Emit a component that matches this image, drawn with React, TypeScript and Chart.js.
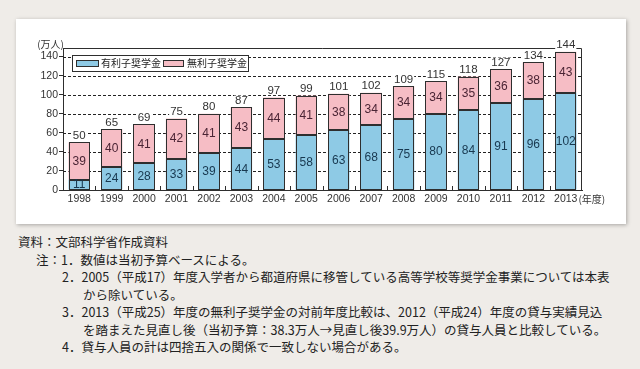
import React, { useEffect, useRef } from "react";
import { Chart, registerables } from "chart.js";

Chart.register(...registerables);

const years = ["1998", "1999", "2000", "2001", "2002", "2003", "2004", "2005", "2006", "2007", "2008", "2009", "2010", "2011", "2012", "2013"];
const interestLoans = [11, 24, 28, 33, 39, 44, 53, 58, 63, 68, 75, 80, 84, 91, 96, 102];
const interestFreeLoans = [39, 40, 41, 42, 41, 43, 44, 41, 38, 34, 34, 34, 35, 36, 38, 43];
const totals = [50, 65, 69, 75, 80, 87, 97, 99, 101, 102, 109, 115, 118, 127, 134, 144];
const yTicks = [0, 20, 40, 60, 80, 100, 120, 140];
const seriesNames = ["有利子奨学金", "無利子奨学金"];
const yUnit = "(万人)";
const xUnit = "(年度)";

const sourceLine = "資料：文部科学省作成資料";
const noteHead = "注：";
const noteLines = [
  ["1．数値は当初予算ベースによる。"],
  ["2．2005（平成17）年度入学者から都道府県に移管している高等学校等奨学金事業については本表", "から除いている。"],
  ["3．2013（平成25）年度の無利子奨学金の対前年度比較は、2012（平成24）年度の貸与実績見込", "を踏まえた見直し後（当初予算：38.3万人→見直し後39.9万人）の貸与人員と比較している。"],
  ["4．貸与人員の計は四捨五入の関係で一致しない場合がある。"],
];

const BLUE = "#8ecae5";
const PINK = "#f6bdc5";
const EDGE = "#2e2e2e";
const NUM_FONT = "Liberation Sans, Arial, sans-serif";
const JP_FONT = "'Noto Sans CJK JP', sans-serif";

const decor = {
  id: "decor",
  beforeDatasetsDraw(chart: any) {
    const { ctx, chartArea: a, scales } = chart;
    const y = scales.y;
    ctx.save();
    ctx.strokeStyle = "#222";
    ctx.lineWidth = 1;
    ctx.setLineDash([3, 2]);
    for (const v of yTicks) {
      if (v === 0) continue;
      const py = Math.round(y.getPixelForValue(v)) + 0.5;
      ctx.beginPath();
      ctx.moveTo(a.left, py);
      ctx.lineTo(a.right, py);
      ctx.stroke();
    }
    ctx.restore();
  },
  afterDatasetsDraw(chart: any) {
    const { ctx, chartArea: a, scales } = chart;
    const x = scales.x;
    ctx.save();
    ctx.strokeStyle = EDGE;
    ctx.lineWidth = 1;
    // bar outlines
    chart.data.datasets.forEach((ds: any, di: number) => {
      const meta = chart.getDatasetMeta(di);
      meta.data.forEach((el: any) => {
        const l = Math.round(el.x - el.width / 2) + 0.5;
        const r = Math.round(el.x + el.width / 2) - 0.5;
        const t = Math.round(el.y) + 0.5;
        const b = Math.round(el.base) - 0.5;
        ctx.strokeRect(l, t, r - l, b - t);
      });
    });
    // frame top & right
    ctx.beginPath();
    ctx.moveTo(a.left, Math.round(a.top) + 0.5);
    ctx.lineTo(Math.round(a.right) - 0.5, Math.round(a.top) + 0.5);
    ctx.lineTo(Math.round(a.right) - 0.5, a.bottom);
    ctx.stroke();
    // small inner ticks at category boundaries
    for (let i = 0; i < years.length - 1; i++) {
      const bx = Math.round((x.getPixelForValue(i) + x.getPixelForValue(i + 1)) / 2) + 0.5;
      ctx.beginPath();
      ctx.moveTo(bx, a.bottom);
      ctx.lineTo(bx, a.bottom - 4);
      ctx.stroke();
    }
    // segment labels
    const colors = ["#18384f", "#4a2434"];
    ctx.font = `12px ${NUM_FONT}`;
    ctx.textAlign = "center";
    ctx.textBaseline = "middle";
    chart.data.datasets.forEach((ds: any, di: number) => {
      const meta = chart.getDatasetMeta(di);
      ctx.fillStyle = colors[di];
      meta.data.forEach((el: any, i: number) => {
        const cy = (el.y + el.base) / 2;
        ctx.fillText(String(ds.data[i]), el.x, cy + 0.5);
      });
    });
    // totals
    const topMeta = chart.getDatasetMeta(1);
    ctx.font = `11.5px ${NUM_FONT}`;
    topMeta.data.forEach((el: any, i: number) => {
      const t = String(totals[i]);
      const w = ctx.measureText(t).width;
      const cy = el.y - 7;
      ctx.fillStyle = "#fff";
      ctx.fillRect(el.x - w / 2 - 1, cy - 4.5, w + 2, 9);
      ctx.fillStyle = "#333";
      ctx.fillText(t, el.x, cy + 0.5);
    });
    // legend
    const lx = 56, ly = 36, lw = 176, lh = 16;
    ctx.fillStyle = "#fff";
    ctx.fillRect(lx, ly, lw, lh);
    ctx.strokeStyle = EDGE;
    ctx.strokeRect(lx + 0.5, ly + 0.5, lw, lh);
    const items = [
      { sx: 60, sw: 22, tx: 85, c: BLUE },
      { sx: 147, sw: 20, tx: 171, c: PINK },
    ];
    ctx.font = `10px ${JP_FONT}`;
    ctx.textAlign = "left";
    items.forEach((it, i) => {
      ctx.fillStyle = it.c;
      ctx.fillRect(it.sx + 0.5, ly + 5.5, it.sw, 6);
      ctx.strokeRect(it.sx + 0.5, ly + 5.5, it.sw, 6);
      ctx.fillStyle = "#222";
      ctx.fillText(chart.data.datasets[i].label, it.tx, ly + 8.5);
    });
    // unit labels
    ctx.font = `10px ${JP_FONT}`;
    ctx.fillStyle = "#333";
    ctx.textAlign = "right";
    ctx.fillText(yUnit, a.left + 1, a.top - 4);
    ctx.font = `10.5px ${NUM_FONT}`;
    const lastW = ctx.measureText(years[years.length - 1]).width;
    ctx.font = `10px ${JP_FONT}`;
    ctx.textAlign = "left";
    ctx.fillText(xUnit, x.getPixelForValue(years.length - 1) + lastW / 2 + 1, a.bottom + 9.5);
    ctx.restore();
  },
};

export default function App() {
  const ref = useRef<HTMLCanvasElement | null>(null);
  useEffect(() => {
    if (!ref.current) return;
    const chart = new Chart(ref.current, {
      type: "bar",
      data: {
        labels: years,
        datasets: [
          { label: seriesNames[0], data: interestLoans, backgroundColor: BLUE, borderWidth: 0 },
          { label: seriesNames[1], data: interestFreeLoans, backgroundColor: PINK, borderWidth: 0 },
        ],
      },
      options: {
        animation: false,
        responsive: false,
        maintainAspectRatio: false,
        datasets: { bar: { categoryPercentage: 1, barPercentage: 0.66, inflateAmount: 0 } },
        layout: { padding: { left: 0, right: 44, top: 29, bottom: 0 } },
        plugins: { legend: { display: false }, tooltip: { enabled: false } },
        scales: {
          x: {
            stacked: true,
            grid: { display: false, drawTicks: false },
            border: { display: true, color: EDGE, width: 1 },
            ticks: { color: "#333", font: { size: 10.5, family: NUM_FONT }, padding: 3, maxRotation: 0, autoSkip: false },
            afterFit: (s: any) => { s.height = 34; },
          },
          y: {
            stacked: true,
            min: 0,
            max: 149,
            afterBuildTicks: (s: any) => { s.ticks = yTicks.map((v) => ({ value: v })); },
            grid: { drawOnChartArea: false, drawTicks: true, tickLength: 4, tickColor: EDGE, tickWidth: 1 },
            border: { display: true, color: EDGE, width: 1 },
            ticks: { color: "#333", font: { size: 10.5, family: NUM_FONT }, padding: 1 },
            afterFit: (s: any) => { s.width = 47; },
          },
        },
      },
      plugins: [decor],
    });
    return () => chart.destroy();
  }, []);

  const lines: { x: number; t: string }[] = [{ x: 18, t: sourceLine }];
  noteLines.forEach((group, gi) => {
    group.forEach((t, li) => {
      if (li === 0) lines.push({ x: gi === 0 ? 36 : 62, t: gi === 0 ? noteHead + t : t });
      else lines.push({ x: 83, t });
    });
  });

  return (
    <div style={{ position: "absolute", left: 0, top: 0, width: 640, height: 369, background: "#efece8", overflow: "hidden" }}>
      <div style={{ position: "absolute", left: 16, top: 19, width: 610, height: 205, background: "#fff", boxShadow: "1px 1px 4px rgba(0,0,0,0.3)" }}>
        <canvas ref={ref} width={610} height={205} style={{ display: "block", width: 610, height: 205 }} />
      </div>
      <div style={{ position: "absolute", left: 0, top: 233, width: 640, fontFamily: JP_FONT, fontSize: 12.5, color: "#222" }}>
        {lines.map((l, i) => (
          <div key={i} style={{ height: 17.5, lineHeight: "17.5px", paddingLeft: l.x, whiteSpace: "nowrap" }}>{l.t}</div>
        ))}
      </div>
    </div>
  );
}
